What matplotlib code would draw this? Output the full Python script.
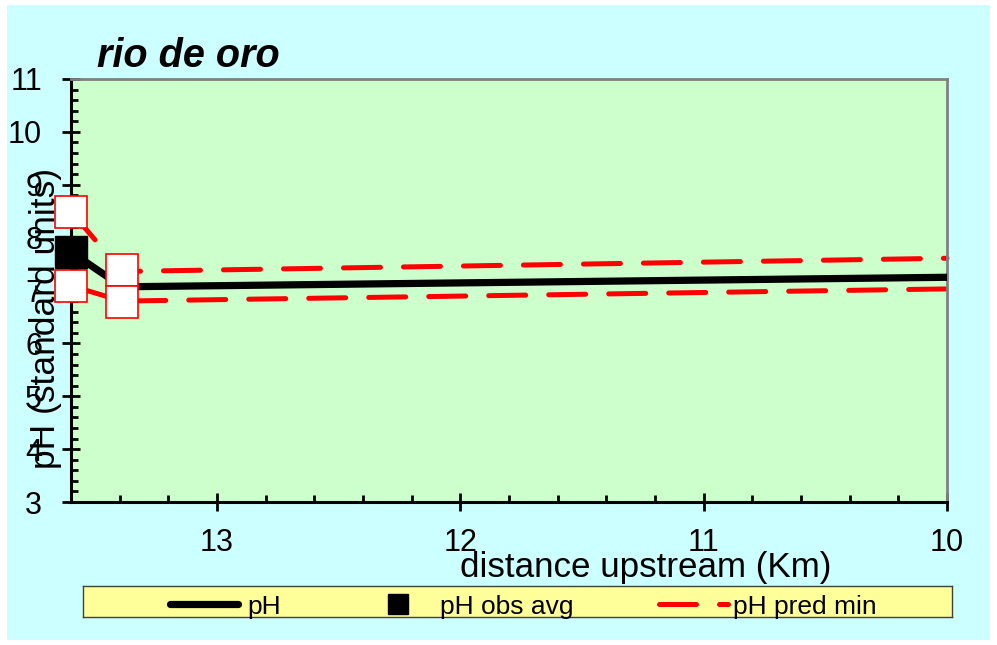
import matplotlib
matplotlib.use("Agg")
import matplotlib.pyplot as plt
from matplotlib import font_manager
from matplotlib.patches import Rectangle
from matplotlib.ticker import MultipleLocator

# data
dist = [13.6, 13.39, 10.0]
ph = [7.73, 7.07, 7.25]
pred_max = [8.49, 7.36, 7.61]
pred_min = [7.09, 6.80, 7.03]
obs_x = [13.6, 13.39]
obs_max = [8.49, 7.39]
obs_min = [7.09, 6.78]
avg_x = [13.6]
obs_avg = [7.73]
legend_labels = ["pH", "pH obs avg", "pH pred min"]

names = {f.name for f in font_manager.fontManager.ttflist}
narrow = "Liberation Sans Narrow" if "Liberation Sans Narrow" in names else "Liberation Sans"
plt.rcParams['font.family'] = ['Liberation Sans', 'DejaVu Sans']

W, H = 997, 645
fig = plt.figure(figsize=(W / 100, H / 100), dpi=100, facecolor="white")

def fx(px):
    return px / W

def fy(py):
    return 1 - py / H

# cyan chart area
fig.patches.append(Rectangle((fx(7), fy(640)), fx(990 - 7), (640 - 5) / H,
                             transform=fig.transFigure, facecolor="#CCFFFF",
                             edgecolor="none", zorder=-10))

L, R, T, B = 71, 947, 79, 502
ax = fig.add_axes([fx(L), fy(B), fx(R - L), (B - T) / H])
ax.set_facecolor("#CCFFCC")

dash = (7.4, 4.6)
ax.plot(dist, pred_max, color="red", lw=3.6, dashes=dash, dash_capstyle="round",
        solid_capstyle="round", zorder=2, clip_on=False)
ax.plot(dist, pred_min, color="red", lw=3.6, dashes=dash, dash_capstyle="round",
        solid_capstyle="round", zorder=2, clip_on=False)
ax.plot(dist, ph, color="black", lw=5.2, solid_capstyle="butt", zorder=3, clip_on=False)
ax.plot(obs_x, obs_max, ls="none", marker="s", ms=22.5, mfc="white", mec="red",
        mew=1.2, zorder=4, clip_on=False)
ax.plot(obs_x, obs_min, ls="none", marker="s", ms=22.5, mfc="white", mec="red",
        mew=1.2, zorder=4, clip_on=False)
ax.plot(avg_x, obs_avg, ls="none", marker="s", ms=23, color="black", zorder=5,
        clip_on=False)

ax.set_xlim(13.6, 10)
ax.set_ylim(3, 11)
ax.xaxis.set_major_locator(MultipleLocator(1))
ax.xaxis.set_minor_locator(MultipleLocator(0.2))
ax.yaxis.set_major_locator(MultipleLocator(1))
ax.yaxis.set_minor_locator(MultipleLocator(0.2))
ax.xaxis.set_major_formatter(matplotlib.ticker.FormatStrFormatter("%d"))
ax.yaxis.set_major_formatter(matplotlib.ticker.FormatStrFormatter("%d"))

ax.tick_params(which="major", direction="inout", length=13.5, width=2, color="black",
               labelsize=22, pad=10)
ax.tick_params(which="minor", direction="in", length=5, width=2, color="black")
ax.tick_params(axis="x", which="major", pad=12)
ax.tick_params(axis="y", which="major", pad=14)
for lab in ax.get_xticklabels() + ax.get_yticklabels():
    lab.set_fontfamily([narrow, "DejaVu Sans"])

for s in ("left", "bottom"):
    ax.spines[s].set_color("black")
    ax.spines[s].set_linewidth(2.2)
for s in ("top", "right"):
    ax.spines[s].set_color("#808080")
    ax.spines[s].set_linewidth(2)

fig.text(fx(97), fy(67), "rio de oro", fontsize=28.5, fontweight="bold", style="italic",
         ha="left", va="baseline")
fig.text(fx(646), fy(567), "distance upstream (Km)", fontsize=25.2,
         ha="center", va="center")
fig.text(fx(45), fy(318), "pH (standard units)", fontsize=25.5, rotation=90,
         ha="center", va="center")

# legend box
lx0, lx1, ly0, ly1 = 83, 952, 586, 617
lax = fig.add_axes([fx(lx0), fy(ly1), fx(lx1 - lx0), (ly1 - ly0) / H])
lax.set_xlim(lx0, lx1)
lax.set_ylim(ly1, ly0)
lax.set_facecolor("#FFFF99")
for s in lax.spines.values():
    s.set_color("#404040")
    s.set_linewidth(1)
lax.set_xticks([])
lax.set_yticks([])
lax.plot([170, 238], [604, 604], color="black", lw=5.2, solid_capstyle="round")
lax.plot([398], [604], ls="none", marker="s", ms=14.5, color="black")
lax.plot([659, 728], [604, 604], color="red", lw=3.6, dashes=(7.4, 4.6),
         dash_capstyle="round")
for x, t in zip([247, 440, 733], legend_labels):
    lax.text(x, 614, t, fontsize=19, ha="left", va="baseline", clip_on=False)

fig.savefig("out.png", dpi=100, facecolor="white")
